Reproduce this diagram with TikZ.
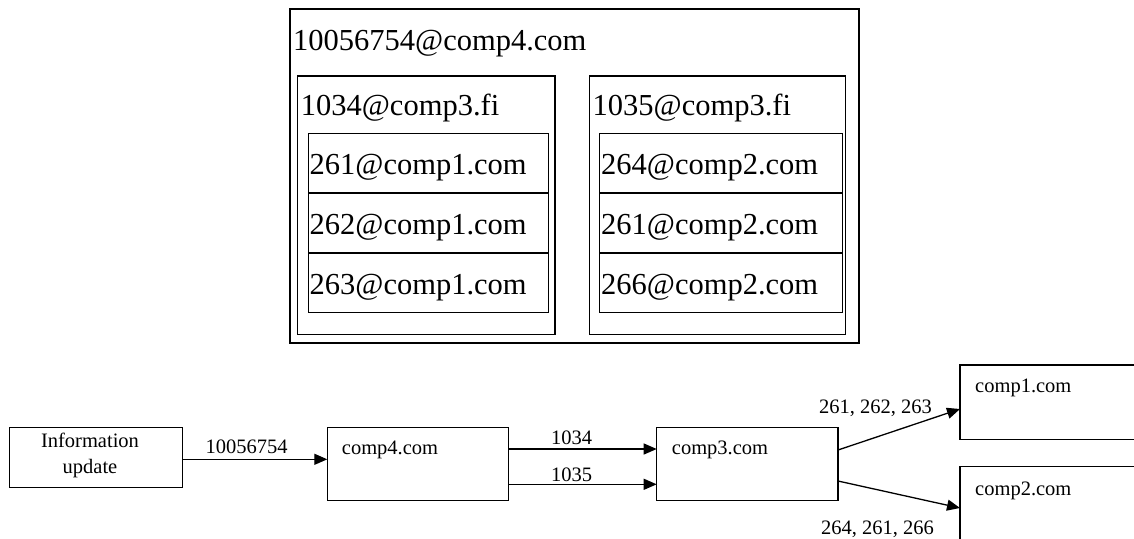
\documentclass[tikz,border=0pt]{standalone}
\usepackage{fontspec}
\setmainfont{Liberation Serif}
\usetikzlibrary{arrows.meta}
\begin{document}
\begin{tikzpicture}[x=1pt,y=-1pt,
  box/.style={draw, rectangle, line width=1.3pt, inner sep=0pt, outer sep=0pt, anchor=north west},
  big/.style={anchor=base west, inner sep=0pt, font=\fontsize{30.5}{36}\selectfont},
  small/.style={anchor=base west, inner sep=0pt, font=\fontsize{20.5}{25}\selectfont},
  arr/.style={line width=1.3pt, -{Triangle[length=13pt,width=11pt]}}]
\useasboundingbox (0,0) rectangle (1134,538);
\clip (0,0) rectangle (1134,538);
% top nested structure
\node[box, line width=2pt, minimum width=569.3pt, minimum height=334pt] (outer) at (290,9.3) {};
\node[big] (outertxt) at (293,50) {10056754@comp4.com};
\node[box, minimum width=257.3pt, minimum height=258.3pt] (midL) at (297.7,76) {};
\node[box, minimum width=256.4pt, minimum height=258.3pt] (midR) at (589.3,76) {};
\node[big] (midLtxt) at (300.7,115) {1034@comp3.fi};
\node[big] (midRtxt) at (592.5,115) {1035@comp3.fi};
\node[box, minimum width=240pt, minimum height=59.8pt] (l1) at (308.3,133.3) {};
\node[box, minimum width=240pt, minimum height=59.8pt] (l2) at (308.3,193.1) {};
\node[box, minimum width=240pt, minimum height=59.8pt] (l3) at (308.3,252.9) {};
\node[box, minimum width=243pt, minimum height=59.8pt] (r1) at (599.3,133.3) {};
\node[box, minimum width=243pt, minimum height=59.8pt] (r2) at (599.3,193.1) {};
\node[box, minimum width=243pt, minimum height=59.8pt] (r3) at (599.3,252.9) {};
\node[big] (l1t) at (309.5,174) {261@comp1.com};
\node[big] (l2t) at (309.5,234) {262@comp1.com};
\node[big] (l3t) at (309.5,294) {263@comp1.com};
\node[big] (r1t) at (601,174) {264@comp2.com};
\node[big] (r2t) at (601,234) {261@comp2.com};
\node[big] (r3t) at (601,294) {266@comp2.com};
% bottom flow
\node[box, minimum width=173.4pt, minimum height=60.4pt] (info) at (9.3,427.3) {};
\node[small, anchor=base] (infot1) at (90,447.3) {Information};
\node[small, anchor=base] (infot2) at (90,473) {update};
\node[box, minimum width=181pt, minimum height=73.4pt] (comp4) at (327.3,427.3) {};
\node[small] (comp4t) at (341.7,454) {comp4.com};
\node[box, minimum width=181.3pt, minimum height=73.4pt] (comp3) at (656.7,427.3) {};
\node[small] (comp3t) at (671.7,454) {comp3.com};
\node[box, minimum width=200pt, minimum height=74.3pt] (comp1) at (960,365) {};
\node[small] (comp1t) at (975,392.7) {comp1.com};
\node[box, minimum width=200pt, minimum height=90pt] (comp2) at (960,466.7) {};
\node[small] (comp2t) at (975,495) {comp2.com};
% connectors
\coordinate (a0) at ([yshift=-1.8pt]info.east);
\draw[arr] (a0) -- (a0 -| comp4.west);
\coordinate (a1) at ([yshift=-21.7pt]comp4.north east);
\coordinate (a2) at ([yshift=-57pt]comp4.north east);
\draw[arr] (a1) -- (a1 -| comp3.west);
\draw[arr] (a2) -- (a2 -| comp3.west);
\coordinate (b1) at ([yshift=-22.7pt]comp3.north east);
\coordinate (b2) at ([yshift=-53.7pt]comp3.north east);
\coordinate (c1) at ([yshift=-44pt]comp1.north west);
\coordinate (c2) at ([yshift=-41.3pt]comp2.north west);
\draw[arr] (b1) -- (c1);
\draw[arr] (b2) -- (c2);
% labels
\node[small] (lab0) at (205.4,453.6) {10056754};
\node[small] (lab1) at (551,444) {1034};
\node[small] (lab2) at (551,481.7) {1035};
\node[small] (lab3) at (819,413) {261, 262, 263};
\node[small] (lab4) at (821,534) {264, 261, 266};
\end{tikzpicture}
\end{document}
